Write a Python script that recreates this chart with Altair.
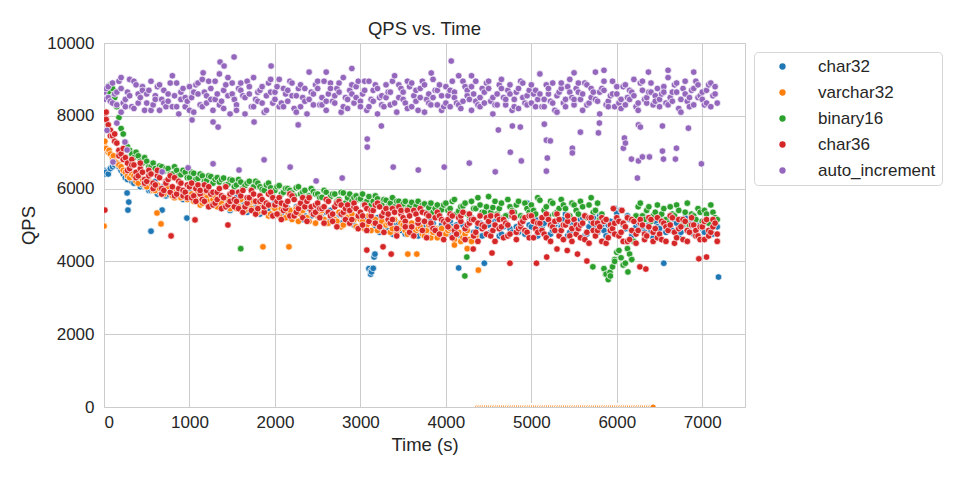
import altair as alt
import pandas as pd

series_names = ["char32", "varchar32", "binary16", "char36", "auto_increment"]
series_colors = ["#1f77b4", "#ff7f0e", "#2ca02c", "#d62728", "#9467bd"]

x_ticks = [0, 1000, 2000, 3000, 4000, 5000, 6000, 7000]
y_ticks = [0, 2000, 4000, 6000, 8000, 10000]

time_s = [
    0, 50, 100, 150, 200, 250, 300, 350, 400, 450,
    500, 550, 600, 650, 700, 750, 800, 850, 900, 950,
    1000, 1050, 1100, 1150, 1200, 1250, 1300, 1350, 1400, 1450,
    1500, 1550, 1600, 1650, 1700, 1750, 1800, 1850, 1900, 1950,
    2000, 2050, 2100, 2150, 2200, 2250, 2300, 2350, 2400, 2450,
    2500, 2550, 2600, 2650, 2700, 2750, 2800, 2850, 2900, 2950,
    3000, 3050, 3100, 3150, 3200, 3250, 3300, 3350, 3400, 3450,
    3500, 3550, 3600, 3650, 3700, 3750, 3800, 3850, 3900, 3950,
    4000, 4050, 4100, 4150, 4200, 4250, 4300, 4350, 4400, 4450,
    4500, 4550, 4600, 4650, 4700, 4750, 4800, 4850, 4900, 4950,
    5000, 5050, 5100, 5150, 5200, 5250, 5300, 5350, 5400, 5450,
    5500, 5550, 5600, 5650, 5700, 5750, 5800, 5850, 5900, 5950,
    6000, 6050, 6100, 6150, 6200, 6250, 6300, 6350, 6400, 6450,
    6500, 6550, 6600, 6650, 6700, 6750, 6800, 6850, 6900, 6950,
    7000, 7050, 7100, 7150,
]
time_s_b = [
    25, 75, 125, 175, 225, 275, 325, 375, 425, 475,
    525, 575, 625, 675, 725, 775, 825, 875, 925, 975,
    1025, 1075, 1125, 1175, 1225, 1275, 1325, 1375, 1425, 1475,
    1525, 1575, 1625, 1675, 1725, 1775, 1825, 1875, 1925, 1975,
    2025, 2075, 2125, 2175, 2225, 2275, 2325, 2375, 2425, 2475,
    2525, 2575, 2625, 2675, 2725, 2775, 2825, 2875, 2925, 2975,
    3025, 3075, 3125, 3175, 3225, 3275, 3325, 3375, 3425, 3475,
    3525, 3575, 3625, 3675, 3725, 3775, 3825, 3875, 3925, 3975,
    4025, 4075, 4125, 4175, 4225, 4275, 4325, 4375, 4425, 4475,
    4525, 4575, 4625, 4675, 4725, 4775, 4825, 4875, 4925, 4975,
    5025, 5075, 5125, 5175, 5225, 5275, 5325, 5375, 5425, 5475,
    5525, 5575, 5625, 5675, 5725, 5775, 5825, 5875, 5925, 5975,
    6025, 6075, 6125, 6175, 6225, 6275, 6325, 6375, 6425, 6475,
    6525, 6575, 6625, 6675, 6725, 6775, 6825, 6875, 6925, 6975,
    7025, 7075, 7125, 7175,
]

# ---- char32 ----
char32_qps = [
    6500, 6400, 6600, 6700, 6500, 6300, 6350, 6150, 6300, 6100,
    6150, 5950, 6200, 5900, 6050, 5850, 6000, 5800, 5950, 5750,
    5900, 5750, 5850, 5650, 5800, 5600, 5750, 5550, 5700, 5500,
    5650, 5750, 5500, 5600, 5700, 5450, 5550, 5650, 5400, 5550,
    5600, 5400, 5550, 5450, 5350, 5500, 5400, 5250, 5450, 5350,
    5450, 5200, 5350, 5400, 5150, 5300, 5250, 5100, 5300, 5200,
    4950, 5150, 3800, 5050, 5200, 4900, 5100, 5000, 4850, 5050,
    5150, 4900, 5000, 4800, 5100, 4950, 4850, 5050, 4750, 5000,
    4900, 5100, 4800, 3820, 5000, 4850, 5200, 4750, 5050, 3950,
    5000, 4850, 5150, 4750, 5050, 4900, 5200, 4800, 5100, 5600,
    4950, 5150, 4800, 5050, 5250, 4850, 5100, 4950, 5300, 4800,
    5050, 4900, 5200, 4750, 5100, 4950, 5250, 4850, 5000, 4800,
    5330, 5410, 4900, 5150, 4800, 5050, 4950, 5200, 4850, 5100,
    4900, 3950, 5150, 4850, 5050, 4800, 5200, 4950, 4750, 5050,
    4900, 5100, 4850, 5000,
]
char32_qps_b = [
    6450, 6550, 6650, 6600, 6400, 6250, 6200, 6250, 6050, 6200,
    5950, 6100, 5850, 6050, 5800, 5950, 5750, 5900, 5700, 5850,
    5700, 5800, 5600, 5700, 5500, 5650, 5600, 5450, 5700, 5400,
    5600, 5450, 5650, 5350, 5550, 5500, 5300, 5600, 5450, 5250,
    5450, 5300, 5500, 5200, 5400, 5350, 5150, 5450, 5250, 5350,
    5200, 5400, 5100, 5300, 5250, 5050, 5350, 5200, 5000, 5250,
    5050, 4850, 3750, 4950, 4800, 5100, 4900, 4750, 5050, 4850,
    4750, 5000, 4850, 4700, 4950, 4800, 5100, 4700, 4900, 4850,
    4750, 4950, 5000, 4700, 4850, 5100, 4800, 4950, 4700, 5000,
    4800, 5100, 4700, 4950, 5250, 4800, 4950, 5050, 4750, 5000,
    5100, 4700, 4950, 5200, 4750, 5000, 4800, 5150, 4700, 5050,
    4850, 5150, 4700, 4950, 5200, 4800, 5000, 4700, 5100, 5450,
    4750, 5000, 5250, 4700, 4950, 5100, 4800, 5000, 4650, 4950,
    5100, 4800, 4950, 5150, 4700, 5000, 4850, 5100, 4800, 5000,
    4800, 5050, 4750, 4950,
]
char32_extra_time = [5, 15, 270, 290, 280, 550, 680, 970, 3120, 3130, 3150, 3160, 3170, 7190]
char32_extra_qps = [6450, 6400, 5880, 5630, 5410, 4830, 5410, 5190, 3650, 3710, 3810, 4120, 4200, 3570]

# ---- varchar32 ----
varchar32_qps = [
    7200, 7000, 6850, 6700, 6600, 6450, 6300, 6350, 6150, 6250,
    6050, 6150, 5950, 6000, 5850, 6050, 5800, 5950, 5750, 5900,
    5800, 5650, 5900, 5600, 5750, 5550, 5800, 5650, 5500, 5700,
    5600, 5450, 5700, 5400, 5550, 5650, 5350, 5500, 5600, 5300,
    5450, 5250, 5550, 5350, 5150, 5450, 5300, 5500, 5100, 5350,
    5250, 5400, 5050, 5300, 5150, 5350, 5000, 5200, 5300, 4950,
    5150, 4900, 5250, 5050, 4850, 5100, 5000, 4800, 5150, 4900,
    5000, 4750, 5050, 4850, 4950, 4700, 5000, 4800, 4650, 4900,
    4750, 4900, 4600, 4800, 4650, 4850, 4550, 4700, 0, 0,
    0, 0, 0, 0, 0, 0, 0, 0, 0, 0,
    0, 0, 0, 0, 0, 0, 0, 0, 0, 0,
    0, 0, 0, 0, 0, 0, 0, 0, 0, 0,
    0, 0, 0, 0, 0, 0, 0, 0, 0, None,
    None, None, None, None, None, None, None, None, None, None,
    None, None, None, None,
]
varchar32_qps_b = [
    7100, 6950, 6750, 6650, 6500, 6350, 6400, 6200, 6300, 6100,
    6200, 5950, 6100, 5850, 6000, 5900, 5750, 5950, 5800, 5700,
    5850, 5700, 5550, 5800, 5650, 5700, 5500, 5600, 5750, 5450,
    5650, 5500, 5350, 5600, 5450, 5300, 5550, 5450, 5250, 5500,
    5300, 5450, 5200, 5400, 5250, 5100, 5400, 5200, 5350, 5050,
    5300, 5150, 5050, 5250, 5100, 4950, 5250, 5050, 5150, 4900,
    5100, 5000, 4850, 5150, 4950, 4800, 5050, 4900, 4750, 5050,
    4850, 4950, 4700, 4900, 4750, 4850, 4650, 4900, 4800, 4600,
    4850, 4650, 4800, 4550, 4750, 4600, 4700, 0, 0, 0,
    0, 0, 0, 0, 0, 0, 0, 0, 0, 0,
    0, 0, 0, 0, 0, 0, 0, 0, 0, 0,
    0, 0, 0, 0, 0, 0, 0, 0, 0, 0,
    0, 0, 0, 0, 0, 0, 0, 0, 0, None,
    None, None, None, None, None, None, None, None, None, None,
    None, None, None, None,
]
varchar32_extra_time = [0, 10, 60, 110, 620, 667, 1860, 2164, 3555, 3660, 4100, 4250, 4380]
varchar32_extra_qps = [4970, 7300, 7050, 6900, 5330, 5030, 4400, 4400, 4200, 4200, 4450, 4350, 3760]

# ---- binary16 ----
binary16_qps = [
    8650, 8800, 8750, 8250, 7650, 7250, 7050, 6850, 6900, 6700,
    6750, 6600, 6550, 6620, 6480, 6550, 6400, 6500, 6380, 6450,
    6300, 6420, 6280, 6350, 6220, 6330, 6250, 6180, 6290, 6120,
    6230, 6100, 6180, 6080, 6200, 6050, 6150, 5980, 6100, 6020,
    5950, 6080, 5900, 6000, 5880, 6020, 5850, 5950, 5800, 5920,
    5850, 5760, 5900, 5780, 5850, 5700, 5880, 5750, 5650, 5800,
    5720, 5600, 5780, 5650, 5720, 5550, 5680, 5600, 5500, 5650,
    5580, 5450, 5620, 5520, 5400, 5580, 5480, 5350, 5550, 5420,
    5600, 5450, 5700, 5380, 5520, 5300, 5650, 5450, 5550, 5350,
    5780, 5480, 5300, 5600, 5250, 5500, 5350, 5650, 5200, 5450,
    5550, 5300, 5680, 5400, 5250, 5600, 5350, 5700, 5450, 5250,
    5550, 5300, 5500, 5200, 5750, 5400, 5150, 3800, 3500, 3850,
    4250, 4100, 3950, 4200, 4550, 5500, 5250, 5400, 5100, 5350,
    5200, 5450, 5050, 5300, 5550, 5150, 5350, 5000, 5250, 5450,
    5100, 5300, 5550, 5200,
]
binary16_qps_b = [
    8700, 8850, 8500, 7950, 7500, 7150, 6950, 7000, 6750, 6850,
    6600, 6700, 6450, 6600, 6550, 6400, 6600, 6350, 6500, 6300,
    6450, 6250, 6400, 6200, 6350, 6150, 6300, 6250, 6100, 6250,
    6050, 6250, 6000, 6150, 5950, 6200, 6050, 5950, 6150, 5900,
    6050, 5850, 6000, 5950, 5800, 6050, 5900, 5750, 6000, 5850,
    5750, 5950, 5700, 5850, 5650, 5900, 5600, 5850, 5750, 5700,
    5850, 5650, 5550, 5800, 5600, 5700, 5500, 5750, 5650, 5450,
    5650, 5500, 5400, 5650, 5550, 5350, 5600, 5450, 5300, 5550,
    5400, 5650, 5300, 5500, 5600, 5250, 5450, 5750, 5350, 5500,
    5350, 5650, 5450, 5200, 5700, 5400, 5550, 5250, 5600, 5350,
    5400, 5750, 5200, 5500, 5650, 5300, 5450, 5550, 5250, 5600,
    5400, 5650, 5250, 5550, 5350, 5600, 5300, 3650, 3600, 4050,
    4300, 3900, 4350, 4050, 5250, 5600, 5150, 5500, 5250, 5550,
    5300, 5150, 5500, 5250, 5400, 5050, 5600, 5300, 5150, 5350,
    5400, 5050, 5350, 5150,
]
binary16_extra_time = [10, 60, 110, 1600, 4222, 4245, 5720, 5870, 5920, 5975, 6025, 6075, 6130, 6175]
binary16_extra_qps = [8750, 8650, 8550, 4350, 3600, 4120, 3850, 3650, 3700, 4000, 4300, 3900, 3710, 4050]

# ---- char36 ----
char36_qps = [
    8000, 7750, 7450, 7250, 6950, 6850, 6550, 6650, 6350, 6450,
    6200, 6400, 6100, 6300, 5950, 6250, 6050, 5850, 6150, 5900,
    6050, 5800, 6100, 5700, 5950, 5850, 5600, 6000, 5750, 5550,
    5900, 5650, 5800, 5500, 5750, 5850, 5450, 5700, 5600, 5900,
    5550, 5750, 5400, 5650, 5800, 5350, 5600, 5500, 5750, 5300,
    5600, 5450, 5700, 5250, 5500, 5650, 5350, 5550, 5150, 5450,
    5350, 5550, 5100, 5400, 5600, 5250, 5450, 5050, 5350, 5500,
    5200, 5400, 4950, 5300, 5450, 5100, 5250, 4900, 5350, 5150,
    5050, 5300, 4850, 5200, 5350, 5000, 5150, 4800, 5250, 4950,
    5100, 4850, 5250, 4950, 5050, 4750, 5200, 4900, 5100, 4800,
    5250, 4900, 5050, 4750, 5150, 4950, 5300, 4850, 5000, 4700,
    5150, 4900, 5050, 4800, 5200, 4700, 4950, 5100, 4650, 4900,
    5200, 4800, 4950, 4600, 5100, 4850, 5000, 4700, 5150, 4900,
    4750, 5050, 4850, 5200, 4650, 4950, 5100, 4800, 5000, 4700,
    4950, 5150, 4800, 5050,
]
char36_qps_b = [
    7900, 7600, 7300, 7050, 6800, 6700, 6800, 6450, 6550, 6250,
    6500, 6150, 6350, 6000, 6200, 5900, 6300, 6000, 5800, 6100,
    5750, 6000, 5850, 5650, 6050, 5550, 5900, 5800, 5500, 5850,
    5700, 5450, 5950, 5600, 5400, 5650, 5800, 5350, 5550, 5750,
    5300, 5600, 5450, 5250, 5700, 5500, 5200, 5650, 5400, 5550,
    5200, 5500, 5350, 5100, 5600, 5300, 5450, 5050, 5500, 5250,
    5000, 5450, 5250, 5550, 4950, 5350, 5150, 5450, 4900, 5300,
    5100, 4800, 5400, 5050, 4850, 5300, 5000, 5200, 4750, 5100,
    4950, 5250, 4750, 5100, 4900, 5300, 4700, 5050, 4900, 5200,
    4700, 5000, 5150, 4650, 5000, 5250, 4800, 4950, 5200, 4650,
    5100, 4800, 5200, 4650, 5000, 4850, 5150, 4600, 5100, 4900,
    4750, 5000, 4600, 5200, 4850, 5050, 4550, 5150, 4850, 5050,
    4700, 5050, 4550, 5150, 4750, 5050, 4600, 5200, 4800, 4650,
    5100, 4550, 5000, 4800, 5150, 4600, 4850, 5200, 4700, 4950,
    4600, 4850, 5150, 4750,
]
char36_qps_c = [
    8100, 7450, 7500, 6900, 7100, 6500, 6650, 6300, 6700, 6150,
    6350, 6000, 6500, 5850, 6150, 6350, 5800, 6200, 5950, 5750,
    6150, 5650, 5950, 6100, 5500, 5900, 5700, 5450, 6050, 5650,
    5500, 5900, 5350, 5750, 5950, 5300, 5650, 5500, 5850, 5250,
    5650, 5150, 5550, 5850, 5250, 5450, 5750, 5100, 5500, 5350,
    5450, 5050, 5650, 5300, 4950, 5550, 5150, 5400, 5600, 4900,
    5250, 4850, 5400, 5050, 5500, 4800, 5300, 5150, 4700, 5400,
    4950, 5250, 4700, 5150, 5350, 4650, 5050, 4850, 5250, 4600,
    5150, 4650, 4950, 5250, 4600, 5050, 5150, 4550, 5000, 4750,
    5250, 4550, 4900, 5150, 4700, 5350, 4600, 5050, 4850, 5250,
    4650, 5050, 4850, 5300, 4550, 5100, 4700, 5000, 5250, 4550,
    5000, 4650, 5250, 4500, 5050, 4850, 5200, 4500, 5000, 4750,
    5100, 4550, 5200, 4850, 4500, 5150, 4750, 4950, 4550, 5200,
    4600, 4950, 5250, 4500, 4900, 5150, 4550, 5000, 4850, 4600,
    5100, 4700, 4950, 4550,
]
char36_extra_time = [10, 785, 1065, 1450, 3075, 3265, 3360, 4320, 4540, 4750,
                     5060, 5180, 5300, 5420, 5540, 5650, 6270, 6340, 6960, 7050, 5960, 6060]
char36_extra_qps = [5410, 4700, 5140, 5000, 4310, 4400, 4200, 4340, 4230, 3950,
                    3950, 4120, 4340, 4300, 4200, 4010, 3850, 3790, 4070, 4120, 5450, 5400]

# ---- auto_increment ----
auto_increment_qps = [
    8650, 8500, 8900, 8300, 8750, 8450, 9000, 8200, 8600, 8800,
    8350, 8950, 8550, 8150, 8700, 8400, 9100, 8250, 8650, 8500,
    8800, 8100, 8600, 9000, 8350, 8750, 8450, 9150, 8200, 8550,
    8900, 8300, 8700, 8050, 8600, 9050, 8400, 8800, 8150, 8650,
    8450, 9000, 8250, 8700, 8550, 8100, 8850, 8400, 9200, 8300,
    8750, 8500, 8150, 8900, 8350, 8650, 9050, 8200, 8600, 8800,
    8400, 8950, 8250, 8700, 8050, 8550, 8850, 8300, 9100, 8500,
    8650, 8200, 8900, 8400, 8750, 8100, 8600, 9000, 8300, 8550,
    8800, 8250, 8650, 9100, 8400, 8700, 8150, 8950, 8500, 8350,
    8750, 8050, 8600, 9000, 8300, 8850, 8450, 8200, 8900, 8550,
    8350, 8700, 9150, 8250, 8600, 8900, 8100, 8750, 8450, 9000,
    8300, 8650, 8150, 8850, 8500, 9200, 8050, 8700, 8400, 8950,
    8600, 8200, 8850, 8450, 9000, 8150, 8700, 8350, 8900, 8550,
    8250, 8800, 9050, 8400, 8650, 8100, 8950, 8500, 8300, 8850,
    8450, 8700, 8250, 8800,
]
auto_increment_qps_b = [
    8750, 8400, 8600, 8950, 8350, 8650, 8250, 8850, 8500, 8150,
    8700, 8300, 8800, 8450, 8250, 8900, 8550, 8050, 8750, 8400,
    8500, 8850, 8300, 8650, 8950, 8150, 8600, 8400, 8850, 8050,
    8450, 8750, 8550, 8950, 8250, 8450, 8700, 8100, 8900, 8350,
    8800, 8350, 8600, 8950, 8200, 8750, 8500, 8050, 8650, 8850,
    8300, 8950, 8600, 8400, 8750, 8100, 8500, 8700, 8350, 8950,
    8600, 8150, 8450, 8850, 8500, 8250, 8650, 8950, 8100, 8750,
    8350, 8800, 8550, 8150, 8950, 8450, 8300, 8700, 8850, 8250,
    8550, 8950, 8350, 8200, 8800, 8450, 8600, 8300, 8750, 8900,
    8400, 8300, 8850, 8500, 8700, 8150, 8650, 8950, 8350, 8700,
    8600, 8450, 8250, 8850, 8400, 8150, 8650, 8350, 8800, 8500,
    8750, 8450, 8900, 8350, 8650, 8400, 8750, 8300, 8550, 8250,
    8350, 8800, 8500, 8650, 8250, 8900, 8450, 8650, 8300, 8750,
    8600, 8350, 8500, 8850, 8200, 8750, 8400, 8700, 8950, 8550,
    8300, 8850, 8550, 8350,
]
auto_increment_qps_c = [
    8450, 8800, 8350, 8650, 9050, 8250, 8550, 8950, 8350, 8700,
    8600, 8150, 8450, 8850, 8350, 8600, 8250, 8900, 8450, 8250,
    8150, 8650, 8900, 8250, 8550, 8450, 8950, 8300, 8700, 9050,
    8600, 8150, 8900, 8500, 8800, 8250, 8650, 8350, 8550, 9000,
    8650, 8250, 8750, 8400, 8900, 8550, 8250, 8750, 8450, 8600,
    8950, 8300, 8400, 8750, 8550, 8900, 8250, 8450, 8850, 8500,
    8250, 8700, 8950, 8400, 8750, 8300, 8500, 8650, 8350, 8850,
    8450, 8950, 8250, 8700, 8500, 8850, 8350, 8500, 8700, 8150,
    8350, 8700, 8500, 8300, 8950, 8550, 8800, 8400, 8250, 8650,
    8950, 8500, 8300, 8750, 8450, 8600, 8250, 8750, 8500, 8300,
    8850, 8250, 8600, 8450, 8750, 8350, 8550, 8900, 8250, 8650,
    8450, 8900, 8600, 8300, 8750, 8450, 8650, 8950, 8250, 8600,
    8800, 8450, 8300, 8700, 8550, 8350, 8950, 8500, 8650, 8400,
    8450, 8650, 8300, 8650, 8900, 8450, 8600, 8250, 8750, 8500,
    8650, 8350, 8900, 8600,
]
auto_increment_extra_time = [
    35, 105, 245, 270, 150, 200,
    1522, 1358, 1405, 1955, 4063, 3829, 2900, 5850, 6600, 6370, 5500, 1160, 2600, 6900, 4300,
    1030, 1276, 1335, 1756, 2272, 3080, 3080, 3245, 1276, 1580, 1873, 2178, 2482, 2787, 3384,
    3677, 984, 680, 3981, 4274, 4578, 4614, 4778, 4883, 4871, 4754, 5152, 5176, 5222, 5187,
    5176, 5480, 5480, 5574, 5796, 5785, 6089, 6101, 6077, 6171, 6241, 6253, 6300, 6382, 6546,
    6534, 6698, 6686, 6534, 6838, 6990, 6276, 6253,
]
auto_increment_extra_qps = [
    7600, 6730, 7280, 7060, 7800, 8100,
    9615, 9478, 9368, 9368, 9505, 9176, 9300, 9250, 9250, 9200, 9180, 9180, 9200, 9200, 9100,
    7885, 7830, 7690, 7830, 7750, 7360, 7140, 7720, 6680, 6510, 6790, 6590, 6210, 6290, 6590,
    6510, 6570, 6460, 6590, 6700, 6460, 7610, 7720, 6760, 7690, 7000, 7770, 7330, 7310, 6840,
    6480, 7110, 6980, 7550, 7800, 7530, 7390, 7250, 7110, 6810, 6290, 6760, 6870, 6870, 6810,
    7030, 7110, 6810, 7720, 7660, 6680, 7690, 7750,
]

series_samples = {
    "char32": [(time_s, char32_qps), (time_s_b, char32_qps_b),
               (char32_extra_time, char32_extra_qps)],
    "varchar32": [(time_s, varchar32_qps), (time_s_b, varchar32_qps_b),
                  (varchar32_extra_time, varchar32_extra_qps)],
    "binary16": [(time_s, binary16_qps), (time_s_b, binary16_qps_b),
                 (binary16_extra_time, binary16_extra_qps)],
    "char36": [(time_s, char36_qps), (time_s_b, char36_qps_b), (time_s_b, char36_qps_c),
               (char36_extra_time, char36_extra_qps)],
    "auto_increment": [(time_s, auto_increment_qps), (time_s_b, auto_increment_qps_b),
                       (time_s, auto_increment_qps_c),
                       (auto_increment_extra_time, auto_increment_extra_qps)],
}

rows = []
for name in series_names:
    pairs = []
    for ts, qs in series_samples[name]:
        pairs += list(zip(ts, qs))
    pairs.sort(key=lambda p: p[0])
    for t, q in pairs:
        if q is not None:
            rows.append({"series": name, "time": t, "qps": q})
df = pd.DataFrame(rows)
df["idx"] = range(len(df))

FONT = "Liberation Sans"
TXT = "#262626"

chart = alt.Chart(df).mark_circle(
    size=44, opacity=1, stroke="white", strokeWidth=0.7, clip=True
).encode(
    x=alt.X("time:Q", title="Time (s)",
            scale=alt.Scale(domain=[0, 7500], nice=False, zero=False),
            axis=alt.Axis(values=x_ticks, format="d")),
    y=alt.Y("qps:Q", title="QPS",
            scale=alt.Scale(domain=[0, 10000], nice=False),
            axis=alt.Axis(values=y_ticks, format="d")),
    color=alt.Color("series:N", title=None,
                    scale=alt.Scale(domain=series_names, range=series_colors),
                    legend=alt.Legend(orient="none", legendX=650, legendY=9,
                                      symbolType="circle", symbolSize=40,
                                      symbolStrokeWidth=0, symbolOffset=14,
                                      labelFontSize=17, labelFont=FONT, labelColor=TXT,
                                      labelOffset=27, rowPadding=8, padding=6,
                                      strokeColor="#d5d5d5", fillColor="white",
                                      cornerRadius=4)),
    strokeWidth=alt.condition("datum.qps == 0", alt.value(1.4), alt.value(0.7)),
    order=alt.Order("idx:Q"),
).properties(
    width=641, height=364,
    background="white",
    title=alt.TitleParams("QPS vs. Time", fontSize=18.5, font=FONT, color=TXT,
                          fontWeight="normal", offset=-4),
    autosize=alt.AutoSizeParams(type="none"),
    padding={"left": 104, "top": 43, "right": 215, "bottom": 73},
).configure_axis(
    grid=True, gridColor="#cccccc", gridWidth=1,
    domain=False, ticks=False, tickSize=0,
    labelFont=FONT, labelFontSize=17, labelColor=TXT,
    titleFont=FONT, titleFontSize=18.5, titleColor=TXT, titleFontWeight="normal",
).configure_axisX(
    labelPadding=7, titlePadding=5,
).configure_axisY(
    labelPadding=10, titlePadding=8,
).configure_view(
    stroke="#cccccc", strokeWidth=1,
)

chart.save("out.html", embed_options={"renderer": "svg", "actions": False})
